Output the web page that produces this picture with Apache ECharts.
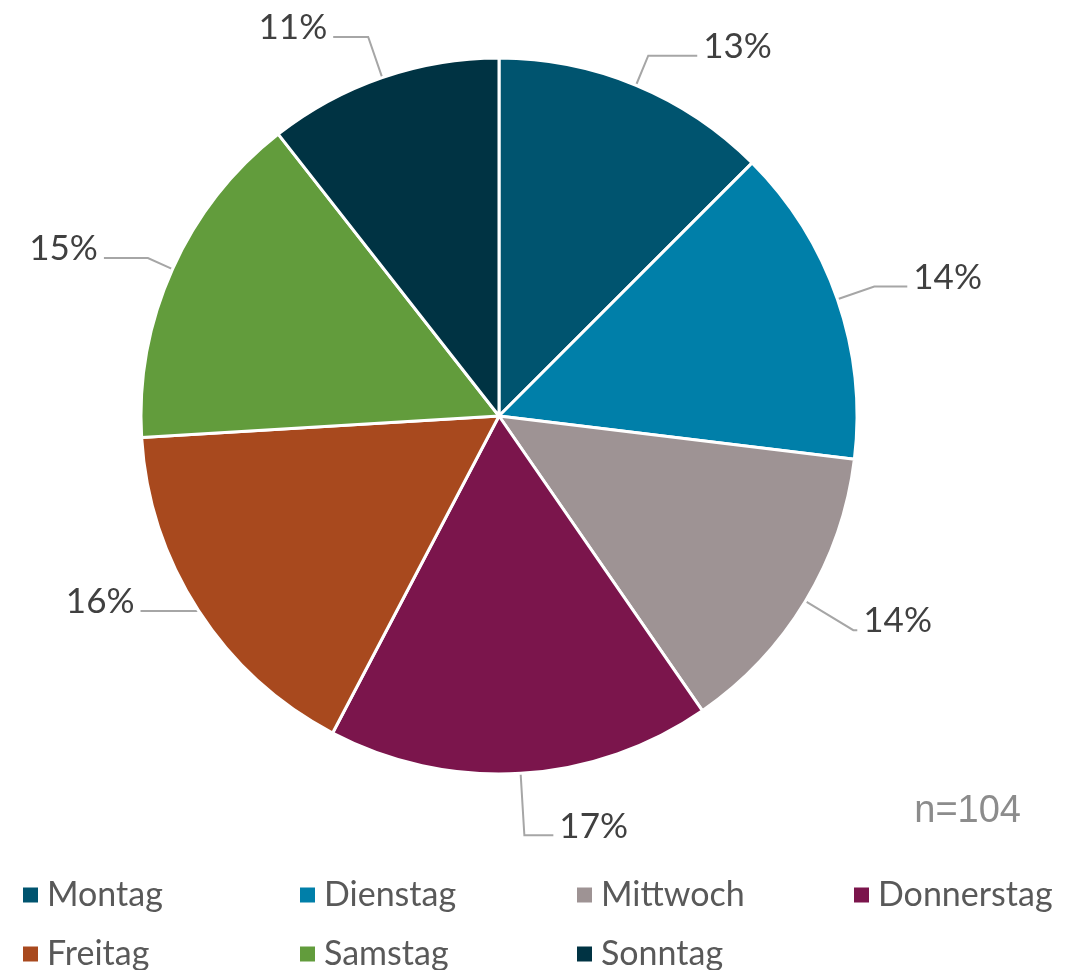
<!DOCTYPE html>
<html>
<head>
<meta charset="utf-8">
<script src="https://cdn.jsdelivr.net/npm/echarts@6/dist/echarts.min.js"></script>
<style>
  html, body { margin: 0; padding: 0; background: #ffffff; }
  #chart { width: 1079px; height: 970px; }
</style>
</head>
<body>
<div id="chart"></div>
<script>
// Wochentage und Anzahl der Nennungen (n=104)
const days = ['Montag', 'Dienstag', 'Mittwoch', 'Donnerstag', 'Freitag', 'Samstag', 'Sonntag']
const counts = [13, 15, 14, 18, 17, 16, 11]
const percentLabels = ['13%', '14%', '14%', '17%', '16%', '15%', '11%']
const colors = ['#00546F', '#007FA9', '#9E9394', '#7B154C', '#A8491E', '#629C3C', '#003343']
const sampleLabel = 'n=104'

// Führungslinien: [radialer Teil, horizontaler Teil] je Segment
const leaderLines = [[32, 49], [39, 33], [56, 4], [62, 29], [1, 57], [27, 44], [43, 35]]

const font = 'Lato, "Open Sans", sans-serif'

const chart = echarts.init(document.getElementById('chart'))

// Legende: 4 Spalten, 2 Zeilen
const legends = days.map((d, i) => ({
  data: [d],
  left: 16 + (i % 4) * 277,
  top: 873 + Math.floor(i / 4) * 59,
  icon: 'rect',
  itemWidth: 17,
  itemHeight: 17,
  selectedMode: false,
  textStyle: {
    color: '#595959',
    fontSize: 34,
    fontFamily: font,
    padding: [0, 0, 0, 3],
  },
}))

const option = {
  backgroundColor: '#ffffff',
  color: colors,
  graphic: [
    {
      type: 'text',
      right: 58,
      top: 793,
      style: {
        text: sampleLabel,
        fill: '#8C8C8C',
        font: '38px "Liberation Sans", Arial, sans-serif',
      },
    },
  ],
  legend: legends,
  series: [
    {
      type: 'pie',
      center: [499, 416],
      radius: 358,
      startAngle: 90,
      clockwise: true,
      animation: false,
      itemStyle: {
        borderColor: '#ffffff',
        borderWidth: 3,
      },
      label: {
        show: true,
        position: 'outside',
        // Text sitzt oberhalb der Linie: leere zweite Zeile schiebt ihn hoch
        formatter: (p) => '{v|' + percentLabels[p.dataIndex] + '}\n{s| }',
        rich: {
          v: { color: '#404040', fontSize: 35, fontFamily: font, lineHeight: 40 },
          s: { fontSize: 1, lineHeight: 18 },
        },
        distanceToLabelLine: 6,
      },
      labelLine: {
        show: true,
        lineStyle: { color: '#A6A6A6', width: 2 },
      },
      labelLayout: { hideOverlap: false },
      avoidLabelOverlap: false,
      emphasis: { disabled: true },
      data: days.map((d, i) => ({
        name: d,
        value: counts[i],
        labelLine: { length: leaderLines[i][0], length2: leaderLines[i][1] },
      })),
    },
  ],
}

chart.setOption(option)
</script>
</body>
</html>
